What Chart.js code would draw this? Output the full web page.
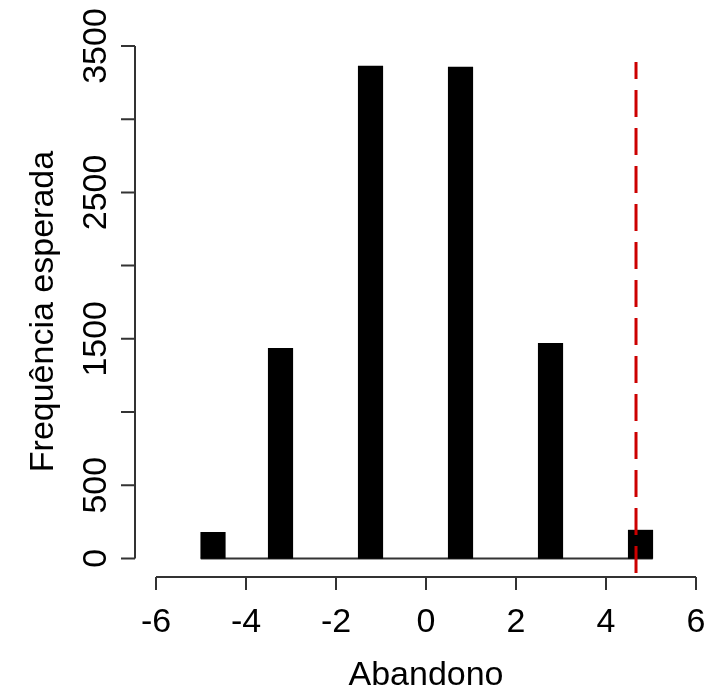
<!DOCTYPE html>
<html>
<head>
<meta charset="utf-8">
<script src="https://cdn.jsdelivr.net/npm/chart.js@4/dist/chart.umd.min.js"></script>
<style>
  html, body { margin: 0; padding: 0; background: #ffffff; }
  canvas { display: block; }
</style>
</head>
<body>
<canvas id="c" width="710" height="693"></canvas>
<script>
// ---- data ----
const binCenters = [-4.733, -3.233, -1.233, 0.767, 2.767, 4.767];
const frequencies = [178, 1435, 3362, 3356, 1469, 193];
const observedValue = [4.667, 4.667];
const observedLineY = [3390, -120];
const xTickValues = [-6, -4, -2, 0, 2, 4, 6];
const xTickLabels = ['-6', '-4', '-2', '0', '2', '4', '6'];
const yTickValues = [0, 500, 1000, 1500, 2000, 2500, 3000, 3500];
const yTickLabels = ['0', '500', '', '1500', '', '2500', '', '3500'];
const xTitle = 'Abandono';
const yTitle = 'Frequência esperada';

const FONT = '34px "Liberation Sans", Arial, sans-serif';
const AXIS_COLOR = '#333333';

const barData = binCenters.map((x, i) => ({ x: x, y: frequencies[i] }));
const lineData = observedValue.map((x, i) => ({ x: x, y: observedLineY[i] }));

// baseline under the histogram (R draws empty bins as a flat line)
const baselinePlugin = {
  id: 'baseline',
  beforeDatasetsDraw(chart) {
    const meta = chart.getDatasetMeta(0);
    if (!meta.data.length) return;
    const first = meta.data[0], last = meta.data[meta.data.length - 1];
    const y0 = chart.scales.y.getPixelForValue(0);
    const ctx = chart.ctx;
    ctx.save();
    ctx.strokeStyle = AXIS_COLOR;
    ctx.lineWidth = 2;
    ctx.beginPath();
    ctx.moveTo(first.x - first.width / 2, y0);
    ctx.lineTo(last.x + last.width / 2, y0);
    ctx.stroke();
    ctx.restore();
  }
};

// R-style axes
const rAxesPlugin = {
  id: 'raxes',
  afterDraw(chart) {
    const ctx = chart.ctx;
    const xs = chart.scales.x, ys = chart.scales.y;
    const axisY = ys.getPixelForValue(0) + 18.7;
    const axisX = xs.left - 21;
    ctx.save();
    ctx.strokeStyle = AXIS_COLOR;
    ctx.fillStyle = '#000000';
    ctx.lineWidth = 2;
    ctx.font = FONT;

    // x axis
    const xa = xs.getPixelForValue(xTickValues[0]);
    const xb = xs.getPixelForValue(xTickValues[xTickValues.length - 1]);
    ctx.beginPath();
    ctx.moveTo(xa, axisY);
    ctx.lineTo(xb, axisY);
    xTickValues.forEach(v => {
      const px = xs.getPixelForValue(v);
      ctx.moveTo(px, axisY);
      ctx.lineTo(px, axisY + 13);
    });
    ctx.stroke();
    ctx.textAlign = 'center';
    ctx.textBaseline = 'alphabetic';
    xTickValues.forEach((v, i) => {
      ctx.fillText(xTickLabels[i], xs.getPixelForValue(v), axisY + 55);
    });
    ctx.fillText(xTitle, (xa + xb) / 2, axisY + 108);

    // y axis
    const ya = ys.getPixelForValue(yTickValues[0]);
    const yb = ys.getPixelForValue(yTickValues[yTickValues.length - 1]);
    ctx.beginPath();
    ctx.moveTo(axisX, ya);
    ctx.lineTo(axisX, yb);
    yTickValues.forEach(v => {
      const py = ys.getPixelForValue(v);
      ctx.moveTo(axisX, py);
      ctx.lineTo(axisX - 14, py);
    });
    ctx.stroke();
    yTickValues.forEach((v, i) => {
      if (!yTickLabels[i]) return;
      ctx.save();
      ctx.translate(axisX - 29, ys.getPixelForValue(v));
      ctx.rotate(-Math.PI / 2);
      ctx.textAlign = 'center';
      ctx.textBaseline = 'alphabetic';
      ctx.fillText(yTickLabels[i], 0, 0);
      ctx.restore();
    });
    ctx.save();
    ctx.translate(axisX - 82, (yb + axisY) / 2);
    ctx.rotate(-Math.PI / 2);
    ctx.textAlign = 'center';
    ctx.textBaseline = 'alphabetic';
    ctx.fillText(yTitle, 0, 0);
    ctx.restore();

    ctx.restore();
  }
};

new Chart(document.getElementById('c'), {
  type: 'bar',
  data: {
    datasets: [
      {
        type: 'bar',
        data: barData,
        backgroundColor: '#000000',
        borderWidth: 0,
        barThickness: 24.5,
        order: 2
      },
      {
        type: 'line',
        data: lineData,
        borderColor: '#cc0000',
        borderWidth: 3,
        borderDash: [27, 11],
        borderDashOffset: 10,
        pointRadius: 0,
        fill: false,
        order: 1
      }
    ]
  },
  options: {
    responsive: false,
    devicePixelRatio: 1,
    animation: false,
    layout: { padding: { left: 156, right: 14, top: 46, bottom: 98 } },
    plugins: { legend: { display: false }, tooltip: { enabled: false } },
    scales: {
      x: { type: 'linear', min: -6, max: 6, offset: false, display: false, grid: { display: false } },
      y: { type: 'linear', min: -250, max: 3500, display: false, grid: { display: false } }
    }
  },
  plugins: [baselinePlugin, rAxesPlugin]
});
</script>
</body>
</html>
